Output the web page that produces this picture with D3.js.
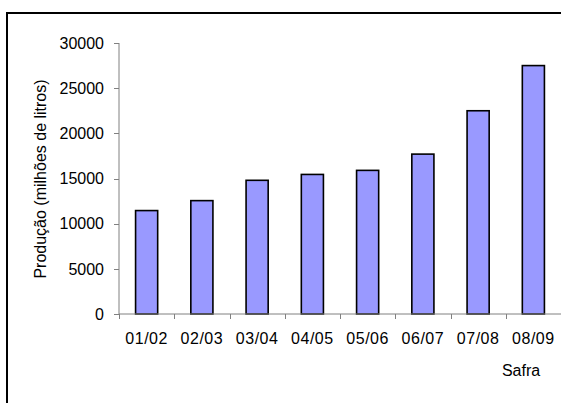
<!DOCTYPE html>
<html>
<head>
<meta charset="utf-8">
<script src="https://cdn.jsdelivr.net/npm/d3@7"></script>
<style>
  body { margin: 0; background: #fff; }
  text { font-family: "Liberation Sans", Arial, sans-serif; fill: #000; }
</style>
</head>
<body>
<div id="chart"></div>
<script>
var safras   = ['01/02', '02/03', '03/04', '04/05', '05/06', '06/07', '07/08', '08/09'],
    producao = [11450, 12550, 14800, 15450, 15900, 17700, 22500, 27500],
    yTicks   = [0, 5000, 10000, 15000, 20000, 25000, 30000];

var width = 561, height = 403,
    plotLeft = 119, plotRight = 561, plotTop = 43, plotBottom = 314,
    fontSize = '16px';

var svg = d3.select('#chart')
    .append('svg')
    .attr('width', width)
    .attr('height', height);

// outer frame (cut by the right and bottom edges)
svg.append('path')
    .attr('d', 'M7,' + (height + 5) + 'V13H' + (width + 5))
    .attr('fill', 'none')
    .attr('stroke', '#000')
    .attr('stroke-width', 2);

var x = d3.scaleBand().domain(safras).range([plotLeft, plotRight]).paddingInner(0.6).paddingOuter(0.3);
var xTick = d3.scaleBand().domain(safras).range([plotLeft, plotRight]);
var y = d3.scaleLinear().domain([0, 30000]).range([plotBottom, plotTop]);

svg.selectAll('rect.bar')
    .data(producao)
    .enter().append('rect')
    .attr('class', 'bar')
    .attr('x', function (d, i) { return x(safras[i]); })
    .attr('y', function (d) { return y(d); })
    .attr('width', x.bandwidth())
    .attr('height', function (d) { return plotBottom - y(d); })
    .attr('fill', '#9999ff')
    .attr('stroke', '#000')
    .attr('stroke-width', 1.6);

// y axis
var gy = svg.append('g').attr('transform', 'translate(' + plotLeft + ',0)');
gy.append('line').attr('y1', plotTop).attr('y2', plotBottom).attr('stroke', '#808080');
gy.selectAll('line.tick')
    .data(yTicks)
    .enter().append('line')
    .attr('x1', -5).attr('x2', 0)
    .attr('y1', function (d) { return Math.round(y(d)) + 0.5; })
    .attr('y2', function (d) { return Math.round(y(d)) + 0.5; })
    .attr('stroke', '#808080');
gy.selectAll('text')
    .data(yTicks)
    .enter().append('text')
    .attr('x', -15)
    .attr('y', function (d) { return y(d); })
    .attr('dy', '0.36em')
    .attr('text-anchor', 'end')
    .style('font-size', fontSize)
    .text(function (d) { return d; });

// x axis
var gx = svg.append('g').attr('transform', 'translate(0,' + plotBottom + ')');
gx.append('line').attr('x1', plotLeft).attr('x2', plotRight).attr('stroke', '#808080');
gx.selectAll('line.tick')
    .data(safras)
    .enter().append('line')
    .attr('x1', function (d) { return Math.round(xTick(d)) + 0.5; })
    .attr('x2', function (d) { return Math.round(xTick(d)) + 0.5; })
    .attr('y1', 0).attr('y2', 5)
    .attr('stroke', '#808080');
gx.selectAll('text')
    .data(safras)
    .enter().append('text')
    .attr('x', function (d) { return xTick(d) + xTick.bandwidth() / 2; })
    .attr('y', 30)
    .attr('text-anchor', 'middle')
    .style('font-size', fontSize)
    .style('letter-spacing', '0.5px')
    .text(function (d) { return d; });

svg.append('text')
    .attr('x', 521)
    .attr('y', 376)
    .attr('text-anchor', 'middle')
    .style('font-size', fontSize)
    .text('Safra');

svg.append('text')
    .attr('transform', 'translate(46,179) rotate(-90)')
    .attr('text-anchor', 'middle')
    .style('font-size', fontSize)
    .text('Produção (milhões de litros)');
</script>
</body>
</html>
